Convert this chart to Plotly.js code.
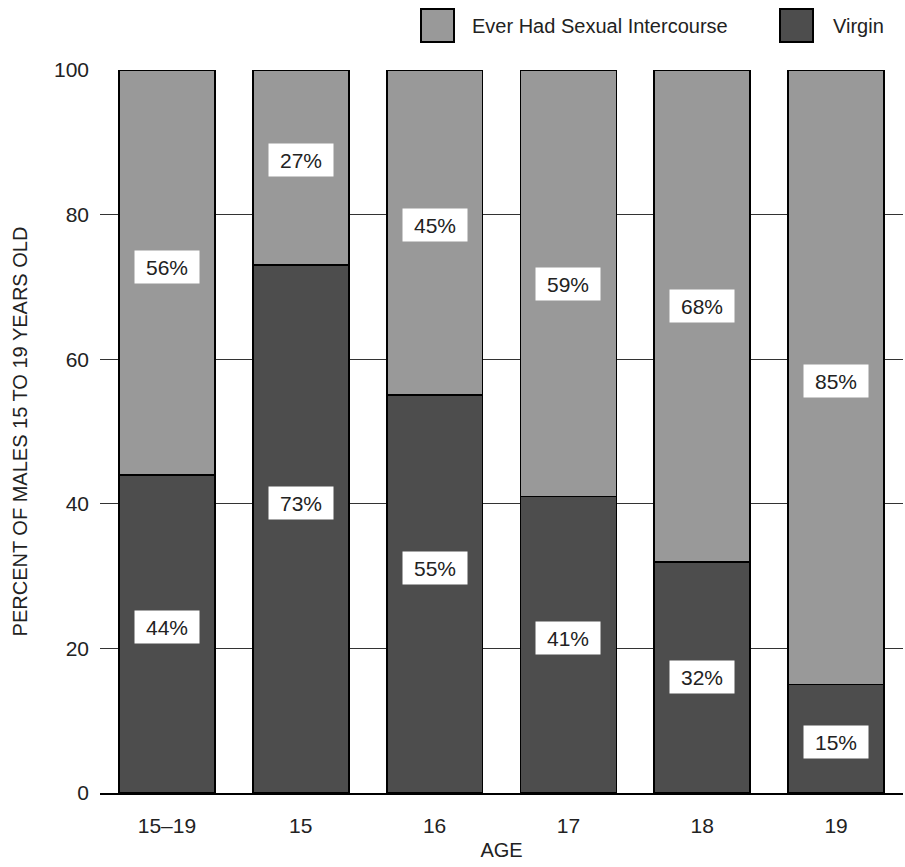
<!DOCTYPE html>
<html>
<head>
<meta charset="utf-8">
<script src="https://cdn.plot.ly/plotly-3.0.1.min.js"></script>
<style>html,body{margin:0;padding:0;background:#fff;}#chart{width:905px;height:867px;}</style>
</head>
<body>
<div id="chart"></div>
<script>
const categories = ["15–19", "15", "16", "17", "18", "19"];
const virgin = [44, 73, 55, 41, 32, 15];
const everHad = [56, 27, 45, 59, 68, 85];
const seriesNames = ["Ever Had Sexual Intercourse", "Virgin"];
const yTicks = [0, 20, 40, 60, 80, 100];

// label placement nudges (pixels, positive = up) — styling only
const virginLabelShift = [7, 26, 26, 7, 0, -3];
const everLabelShift = [5, 8, 8, -1, 10, -4];

const FONT = "Liberation Sans, Arial, sans-serif";
const LIGHT = "#999999";
const DARK = "#4d4d4d";
const idx = categories.map((c, i) => i);

const traces = [
  {
    type: "bar", name: seriesNames[1], x: idx, y: virgin,
    marker: {color: DARK, line: {color: "#000", width: 1.8}},
    hoverinfo: "none", showlegend: false
  },
  {
    type: "bar", name: seriesNames[0], x: idx, y: everHad,
    marker: {color: LIGHT, line: {color: "#000", width: 1.8}},
    hoverinfo: "none", showlegend: false
  }
];

const labelStyle = {
  showarrow: false, bgcolor: "#fff", width: 56, height: 24, borderpad: 4,
  font: {family: FONT, size: 21, color: "#222"}
};
const annotations = [];
idx.forEach(i => {
  annotations.push(Object.assign({
    x: i, y: virgin[i] / 2, xref: "x", yref: "y", text: virgin[i] + "%",
    yshift: virginLabelShift[i]
  }, labelStyle));
  annotations.push(Object.assign({
    x: i, y: virgin[i] + everHad[i] / 2, xref: "x", yref: "y", text: everHad[i] + "%",
    yshift: everLabelShift[i]
  }, labelStyle));
});

// custom legend (large swatches)
const legendItems = [
  {name: seriesNames[0], color: LIGHT, x0: 421, tx: 470},
  {name: seriesNames[1], color: DARK, x0: 780, tx: 831}
];
const shapes = [];
legendItems.forEach(it => {
  shapes.push({
    type: "rect", xref: "paper", yref: "paper",
    x0: (it.x0 - 100) / 803, x1: (it.x0 + 33 - 100) / 803,
    y0: 1 + (70 - 42) / 723, y1: 1 + (70 - 9) / 723,
    fillcolor: it.color, line: {color: "#000", width: 2}
  });
  annotations.push({
    xref: "paper", yref: "paper", x: (it.tx - 100) / 803, y: 1 + (70 - 26) / 723,
    xanchor: "left", yanchor: "middle", text: it.name, showarrow: false,
    font: {family: FONT, size: 20, color: "#222"}
  });
});

const layout = {
  width: 905, height: 867,
  margin: {l: 100, r: 2, t: 70, b: 74},
  paper_bgcolor: "#fff", plot_bgcolor: "#fff",
  barmode: "stack", bargap: 0.283,
  font: {family: FONT, size: 21, color: "#222"},
  xaxis: {
    type: "linear", range: [-0.5, categories.length - 0.5],
    tickvals: idx, ticktext: categories,
    showline: true, linecolor: "#000", linewidth: 2, showgrid: false, zeroline: false,
    ticks: "", ticklabelstandoff: 13, tickfont: {family: FONT, size: 21, color: "#222"},
    title: {text: "AGE", font: {family: FONT, size: 20, color: "#222"}, standoff: 7},
    fixedrange: true
  },
  yaxis: {
    range: [0, 100], tickvals: yTicks, ticktext: yTicks.map(String),
    showgrid: true, gridcolor: "#333", gridwidth: 1, zeroline: false, showline: false,
    ticks: "", ticklabelstandoff: 10, tickfont: {family: FONT, size: 21, color: "#222"},
    title: {text: "PERCENT OF MALES 15 TO 19 YEARS OLD", font: {family: FONT, size: 20, color: "#222"}, standoff: 20},
    fixedrange: true
  },
  annotations: annotations,
  shapes: shapes,
  showlegend: false
};

Plotly.newPlot("chart", traces, layout, {displayModeBar: false, staticPlot: true});
</script>
</body>
</html>
